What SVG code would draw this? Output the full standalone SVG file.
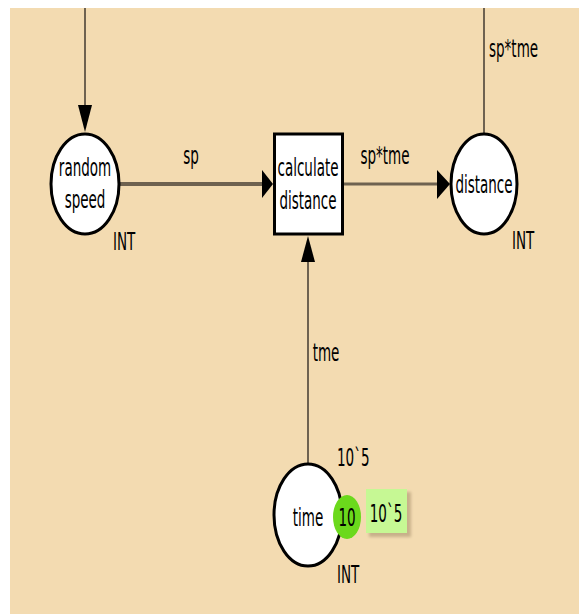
<svg xmlns="http://www.w3.org/2000/svg" width="579" height="614" viewBox="0 0 579 614">
  <style>
    .lbl { font-family: "DejaVu Sans", "Liberation Sans", sans-serif; font-size: 13.5px; fill: #000; }
    .mid { text-anchor: middle; }
    .place { fill: #fff; stroke: #000; stroke-width: 3; }
    .arc { fill: none; stroke: #6e6250; }
    .head { fill: #000; }
  </style>
  <defs>
    <filter id="soft" x="-20%" y="-20%" width="140%" height="140%">
      <feGaussianBlur stdDeviation="1.5"/>
    </filter>
  </defs>

  <!-- page -->
  <rect x="0" y="0" width="579" height="614" fill="#fff"/>
  <rect x="10" y="8" width="569" height="606" fill="#f3dbb1"/>

  <!-- arcs -->
  <g id="connectors">
    <!-- incoming arc into random speed -->
    <line class="arc" x1="85" y1="8" x2="85" y2="110" stroke-width="2"/>
    <polygon class="head" points="78,105 92,105 85,132"/>
    <!-- random speed -> calculate distance -->
    <line class="arc" x1="120" y1="184" x2="264" y2="184" stroke-width="4"/>
    <polygon class="head" points="262,170 262,198 273,184"/>
    <g transform="translate(191,164) scale(1,1.85)"><text class="lbl mid">sp</text></g>
    <!-- calculate distance -> distance -->
    <line class="arc" x1="343" y1="184" x2="440" y2="184" stroke-width="3"/>
    <polygon class="head" points="437,170 437,199 450,184"/>
    <g transform="translate(385,164) scale(1,1.85)"><text class="lbl mid">sp*tme</text></g>
    <!-- outgoing arc from distance -->
    <line class="arc" x1="484" y1="8" x2="484" y2="133" stroke-width="2"/>
    <g transform="translate(489,57) scale(1,1.85)"><text class="lbl">sp*tme</text></g>
    <!-- time -> calculate distance -->
    <line class="arc" x1="308" y1="258" x2="308" y2="463" stroke-width="2"/>
    <polygon class="head" points="301,262 315,262 308,236"/>
    <g transform="translate(326,361) scale(1,1.85)"><text class="lbl mid">tme</text></g>
  </g>

  <!-- place: random speed -->
  <g id="random-speed">
    <ellipse class="place" cx="85" cy="184" rx="34" ry="50"/>
    <g transform="translate(85,176) scale(1,1.85)"><text class="lbl mid">random</text></g>
    <g transform="translate(85,208) scale(1,1.85)"><text class="lbl mid">speed</text></g>
    <g transform="translate(113,250) scale(1,1.85)"><text class="lbl">INT</text></g>
  </g>

  <!-- transition: calculate distance -->
  <g id="calculate-distance">
    <rect x="274.5" y="134" width="68" height="100" fill="#fff" stroke="#000" stroke-width="3"/>
    <g transform="translate(308,176) scale(1,1.85)"><text class="lbl mid">calculate</text></g>
    <g transform="translate(308,209) scale(1,1.85)"><text class="lbl mid">distance</text></g>
  </g>

  <!-- place: distance -->
  <g id="distance">
    <ellipse class="place" cx="484" cy="184" rx="33" ry="50"/>
    <g transform="translate(484,193) scale(1,1.85)"><text class="lbl mid">distance</text></g>
    <g transform="translate(512,249) scale(1,1.85)"><text class="lbl">INT</text></g>
  </g>

  <!-- place: time with initial marking -->
  <g id="time">
    <ellipse class="place" cx="308" cy="515" rx="34" ry="51"/>
    <g transform="translate(308,526) scale(1,1.85)"><text class="lbl mid">time</text></g>
    <g transform="translate(337,466) scale(1,1.85)"><text class="lbl">10`5</text></g>
    <g transform="translate(337,583) scale(1,1.85)"><text class="lbl">INT</text></g>
    <!-- token count -->
    <ellipse cx="347" cy="517" rx="14" ry="22" fill="#6bd91c"/>
    <g transform="translate(347,526) scale(1,1.85)"><text class="lbl mid">10</text></g>
    <!-- marking box -->
    <rect x="369" y="492" width="42" height="45" fill="#c8b08a" filter="url(#soft)"/>
    <rect x="366" y="489" width="41" height="44" fill="#c6f894"/>
    <g transform="translate(386,522) scale(1,1.85)"><text class="lbl mid">10`5</text></g>
  </g>
</svg>
